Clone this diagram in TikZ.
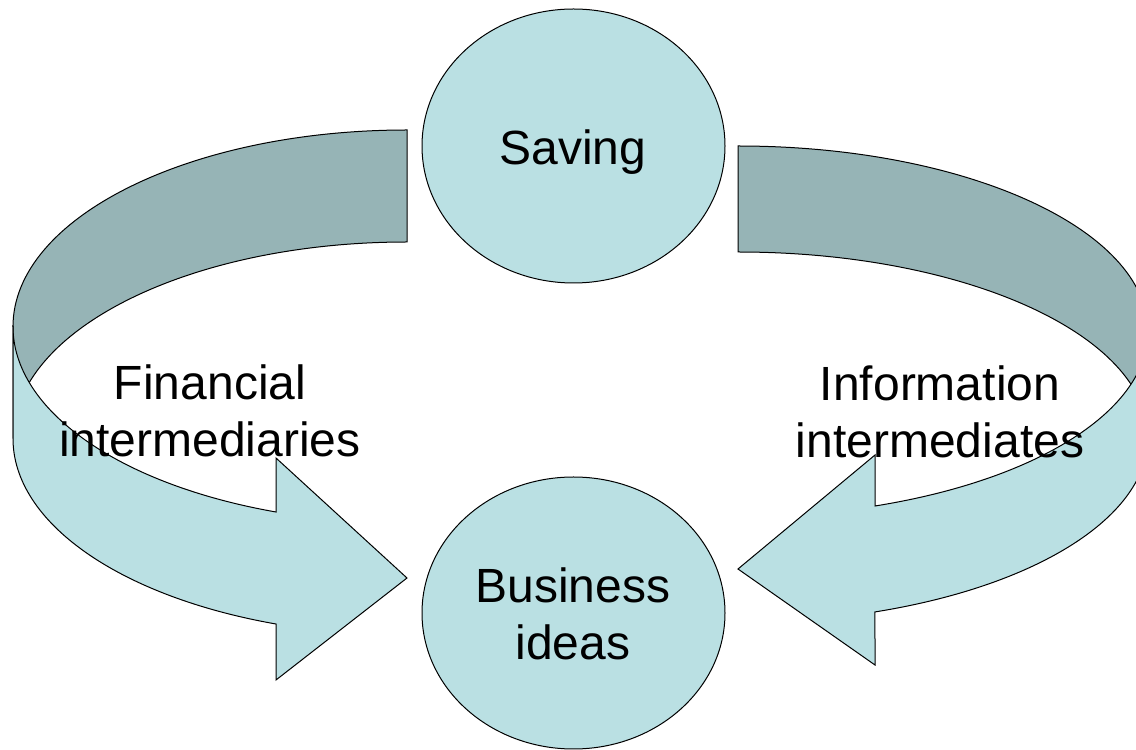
\documentclass[tikz,border=0pt]{standalone}
\usepackage{fontspec}
\setmainfont{Liberation Sans}
\usetikzlibrary{shapes.geometric}
\definecolor{lightteal}{RGB}{186,224,227}
\definecolor{darkteal}{RGB}{150,180,182}
\begin{document}
\begin{tikzpicture}[x=1pt,y=1pt,
  bubble/.style={ellipse,draw=black,line width=1pt,fill=lightteal,minimum width=303pt,inner sep=0pt},
  band/.style={draw=black,line width=1pt,line join=miter},
  lbl/.style={font=\fontsize{48}{57}\selectfont,align=center,inner sep=0pt}]
\useasboundingbox (0,0) rectangle (1136,750);
% ---------- left curved arrow ----------
% back (dark) part
\fill[darkteal] (407,620) arc[start angle=90,end angle=180,x radius=394,y radius=196.6]
   -- (13,311.4) arc[start angle=180,end angle=90,x radius=394,y radius=196.6] -- cycle;
\draw[band] (407,620) arc[start angle=90,end angle=180,x radius=394,y radius=196.6]
   -- (13,311.4) arc[start angle=180,end angle=90,x radius=394,y radius=196.6] -- cycle;
% front (light) part
\draw[band,fill=lightteal] (13,423.4) -- (13,311.4)
   arc[start angle=180,end angle=250.58,x radius=394,y radius=196.6]
   -- (276,70) -- (407,172) -- (276,292) -- (276,238)
   arc[start angle=250.58,end angle=180,x radius=394,y radius=196.6] -- cycle;
% ---------- right curved arrow ----------
\draw[band,fill=darkteal] (738,604) arc[start angle=90,end angle=0,x radius=410,y radius=185.3]
   -- (1148,312.7) arc[start angle=0,end angle=90,x radius=410,y radius=185.3] -- cycle;
\draw[band,fill=lightteal] (1148,418.7) -- (1148,312.7)
   arc[start angle=0,end angle=-70.48,x radius=410,y radius=185.3]
   -- (875,85) -- (738,181) -- (875,295) -- (875,244)
   arc[start angle=-70.48,end angle=0,x radius=410,y radius=185.3] -- cycle;
% ---------- circles ----------
\node[bubble,minimum height=274pt] (save) at (573.5,604) {};
\node[bubble,minimum height=272pt] (biz) at (573.5,137) {};
\node[lbl,anchor=base] (savetxt) at (573,585) {Saving};
\node[lbl] (biztxt) at (573,136) {Business\\ideas};
% ---------- labels ----------
\node[lbl] (fin) at (210,339) {Financial\\intermediaries};
\node[lbl] (info) at (940,338) {Information\\intermediates};
\end{tikzpicture}
\end{document}
